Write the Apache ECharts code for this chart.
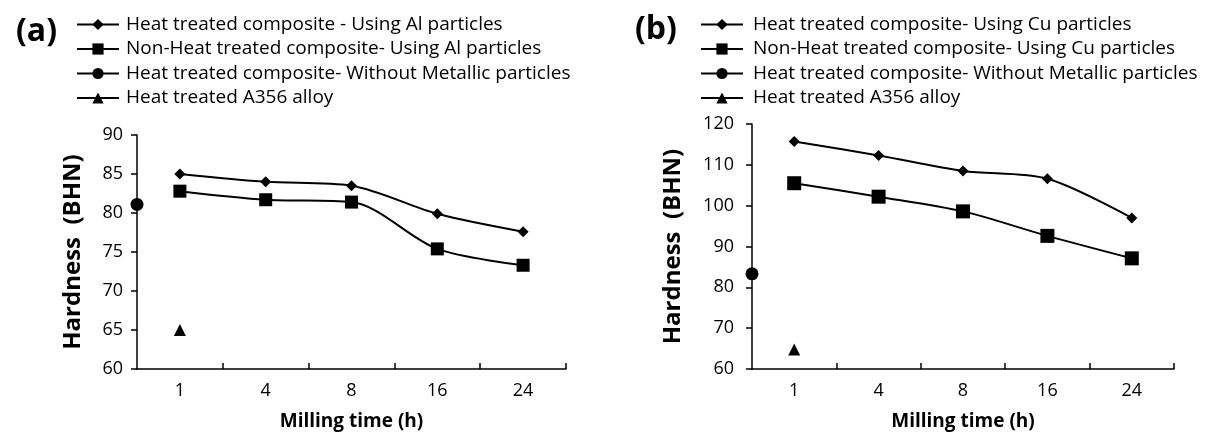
<!doctype html>
<html>
<head>
<meta charset="utf-8">
<title>Hardness vs milling time</title>
<script src="https://cdn.jsdelivr.net/npm/echarts@6/dist/echarts.min.js"></script>
<style>
  html, body { margin: 0; padding: 0; background: #fff; }
  #chart { width: 1215px; height: 436px; }
</style>
</head>
<body>
<div id="chart"></div>
<script>
// milling time categories (h)
const timeLabels = ['1', '4', '8', '16', '24'];

// (a) Al particles
const alHeat = [85.0, 84.0, 83.5, 79.9, 77.6];
const alNonHeat = [82.8, 81.7, 81.4, 75.4, 73.3];
const baseA = [81.1];    // heat treated composite without metallic particles
const alloyA = [65.0];   // heat treated A356 alloy

// (b) Cu particles
const cuHeat = [115.7, 112.3, 108.5, 106.6, 97.0];
const cuNonHeat = [105.5, 102.2, 98.6, 92.6, 87.1];
const baseB = [83.3];
const alloyB = [64.8];

const namesA = [
  'Heat treated composite - Using Al particles',
  'Non-Heat treated composite- Using Al particles',
  'Heat treated composite- Without Metallic particles',
  'Heat treated A356 alloy'
];
const namesB = [
  'Heat treated composite- Using Cu particles',
  'Non-Heat treated composite- Using Cu particles',
  'Heat treated composite- Without Metallic particles',
  'Heat treated A356 alloy'
];

const FONT = 'Open Sans';
const black = '#000';

// put each category value in the middle of its slot
const slot = arr => arr.map((v, i) => [i + 0.5, v]);

function xAxisFor(idx) {
  return {
    type: 'value', gridIndex: idx, min: 0, max: 5,
    axisLine: { show: true, onZero: false, lineStyle: { color: black, width: 1.5 } },
    axisTick: { show: true, inside: true, length: 6, customValues: [1, 2, 3, 4, 5], lineStyle: { color: black, width: 1.5 } },
    axisLabel: {
      customValues: [0.5, 1.5, 2.5, 3.5, 4.5],
      formatter: v => timeLabels[Math.floor(v)],
      margin: 13, fontSize: 18, color: black, fontFamily: FONT
    },
    splitLine: { show: false },
    name: 'Milling time (h)', nameLocation: 'middle', nameGap: 43,
    nameTextStyle: { fontSize: 19, fontWeight: 'bold', color: black, fontFamily: FONT }
  };
}

function yAxisFor(idx, min, max, step, margin, gap) {
  return {
    type: 'value', gridIndex: idx, min: min, max: max, interval: step,
    axisLine: { show: true, lineStyle: { color: black, width: 1.5 } },
    axisTick: { show: true, length: 6, lineStyle: { color: black, width: 1.5 } },
    axisLabel: { margin: margin, fontSize: 18, color: black, fontFamily: FONT },
    splitLine: { show: false },
    name: 'Hardness  (BHN)', nameLocation: 'middle', nameGap: gap,
    nameTextStyle: { fontSize: 24, fontWeight: 'bold', color: black, fontFamily: FONT }
  };
}

function lineSeries(name, idx, data, symbol, size, smooth) {
  return {
    name: name, type: 'line', xAxisIndex: idx, yAxisIndex: idx,
    data: data, symbol: symbol, symbolSize: size, showSymbol: true,
    smooth: smooth, clip: false,
    lineStyle: { color: black, width: 2 },
    itemStyle: { color: black },
    emphasis: { disabled: true }
  };
}

function legendFor(left, names, pad) {
  return {
    orient: 'vertical', left: left, top: 10,
    itemWidth: 42, itemHeight: 14, itemGap: 5.5,
    selectedMode: false, data: names,
    textStyle: { fontSize: 19, lineHeight: 19, color: black, fontFamily: FONT, padding: [0, 0, 0, pad] }
  };
}

const chart = echarts.init(document.getElementById('chart'));
chart.setOption({
  backgroundColor: '#fff',
  animation: false,
  title: [
    { text: '(a)', left: 11, top: 11, textStyle: { fontSize: 32, fontWeight: 'bold', color: black, fontFamily: FONT } },
    { text: '(b)', left: 630, top: 9, textStyle: { fontSize: 32, fontWeight: 'bold', color: black, fontFamily: FONT } }
  ],
  legend: [legendFor(71, namesA, 2), legendFor(695, namesB, 5)],
  grid: [
    { left: 137, top: 135, width: 429, height: 234 },
    { left: 752, top: 124, width: 422, height: 246 }
  ],
  xAxis: [xAxisFor(0), xAxisFor(1)],
  yAxis: [yAxisFor(0, 60, 90, 5, 14, 52), yAxisFor(1, 60, 120, 10, 18, 67)],
  series: [
    lineSeries(namesA[0], 0, slot(alHeat), 'diamond', 11, 0.3),
    lineSeries(namesA[1], 0, slot(alNonHeat), 'rect', 13, 0.3),
    lineSeries(namesA[2], 0, baseA.map(v => [0, v]), 'circle', 13, false),
    lineSeries(namesA[3], 0, slot(alloyA), 'triangle', 12, false),
    lineSeries(namesB[0], 1, slot(cuHeat), 'diamond', 11, 0.3),
    lineSeries(namesB[1], 1, slot(cuNonHeat), 'rect', 14, 0.3),
    lineSeries(namesB[2], 1, baseB.map(v => [0, v]), 'circle', 13, false),
    lineSeries(namesB[3], 1, slot(alloyB), 'triangle', 12, false)
  ]
});
</script>
</body>
</html>
